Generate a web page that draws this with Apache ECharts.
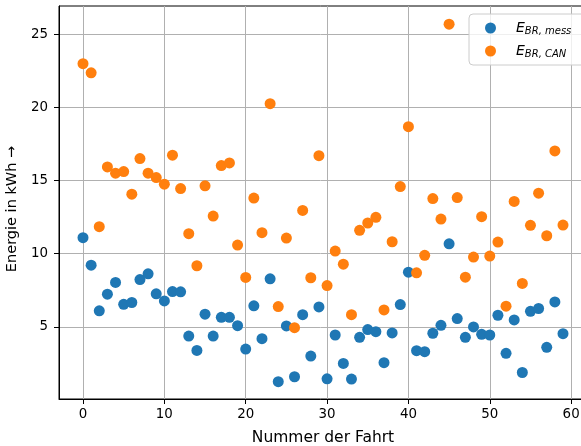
<!DOCTYPE html>
<html>
<head>
<meta charset="utf-8">
<script src="https://cdn.jsdelivr.net/npm/echarts@6/dist/echarts.min.js"></script>
<style>
  html, body { margin: 0; padding: 0; background: #fff; }
  #chart { width: 581px; height: 446px; }
</style>
</head>
<body>
<div id="chart"></div>
<script>
// Trip numbers 0..59
const fahrten = Array.from({ length: 60 }, (_, i) => i);

// Measured braking energy per trip (kWh)
const eMess = [
  11.10, 9.22, 6.10, 7.24, 8.04, 6.55, 6.67, 8.24, 8.63, 7.26,
  6.78, 7.42, 7.40, 4.38, 3.40, 5.87, 4.38, 5.66, 5.66, 5.09,
  3.49, 6.44, 4.20, 8.29, 1.26, 5.07, 1.60, 5.84, 3.01, 6.37,
  1.46, 4.45, 2.51, 1.44, 4.29, 4.82, 4.68, 2.56, 4.59, 6.53,
  8.74, 3.38, 3.31, 4.57, 5.11, 10.68, 5.57, 4.29, 5.00, 4.50,
  4.45, 5.80, 3.20, 5.48, 1.89, 6.07, 6.26, 3.61, 6.71, 4.54
];

// Braking energy from CAN bus per trip (kWh)
const eCan = [
  22.98, 22.36, 11.85, 15.93, 15.50, 15.61, 14.07, 16.50, 15.50, 15.20,
  14.75, 16.73, 14.45, 11.37, 9.18, 14.64, 12.57, 16.02, 16.20, 10.59,
  8.38, 13.80, 11.44, 20.25, 6.39, 11.07, 4.95, 12.96, 8.36, 16.70,
  7.83, 10.18, 9.29, 5.84, 11.60, 12.10, 12.49, 6.16, 10.82, 14.59,
  18.68, 8.70, 9.89, 13.77, 12.37, 25.68, 13.84, 8.40, 9.77, 12.53,
  9.84, 10.80, 6.42, 13.57, 7.97, 11.94, 14.14, 11.23, 17.02, 11.96
];

const xTicks = [0, 10, 20, 30, 40, 50, 60];
const yTicks = [5, 10, 15, 20, 25];

const FONT = 'DejaVu Sans';

const pairs = (vals) => fahrten.map((i) => [i, vals[i]]);

const legendLabels = {
  mess: '{e|E}{s|BR, mess}',
  can: '{e|E}{s|BR, CAN}'
};

const chart = echarts.init(document.getElementById('chart'), null, { renderer: 'canvas' });

const tickStyle = { show: true, inside: false, length: 5, lineStyle: { color: '#000', width: 1 } };
const labelStyle = { color: '#000', fontFamily: FONT, fontSize: 13.4 };

chart.setOption({
  animation: false,
  backgroundColor: '#fff',
  grid: {
    left: 59, top: 6, width: 528, height: 393,
    outerBoundsMode: 'none',
    containLabel: false,
    show: true, borderColor: '#000', borderWidth: 1, backgroundColor: 'transparent'
  },
  xAxis: {
    type: 'value',
    min: -2.95, max: 61.95,
    name: 'Nummer der Fahrt',
    nameLocation: 'middle',
    nameGap: 31,
    nameTextStyle: { color: '#000', fontFamily: FONT, fontSize: 15.5 },
    axisLine: { show: true, onZero: false, lineStyle: { color: '#000', width: 1 } },
    axisTick: Object.assign({}, tickStyle, { customValues: xTicks }),
    axisLabel: Object.assign({}, labelStyle, { margin: 9, customValues: xTicks }),
    splitLine: { show: true, lineStyle: { color: '#b0b0b0', width: 1 } }
  },
  yAxis: {
    type: 'value',
    min: 0.08, max: 26.92,
    name: 'Energie in kWh \u2192',
    nameLocation: 'middle',
    nameRotate: 90,
    nameGap: 38,
    nameTextStyle: {
      color: '#000', fontFamily: FONT, fontSize: 14.5,
      padding: [0, 13, 0, 0]
    },
    axisLine: { show: true, onZero: false, lineStyle: { color: '#000', width: 1 } },
    axisTick: Object.assign({}, tickStyle, { customValues: yTicks }),
    axisLabel: Object.assign({}, labelStyle, { margin: 11, customValues: yTicks }),
    splitLine: { show: true, lineStyle: { color: '#b0b0b0', width: 1 } }
  },
  legend: {
    left: 469, top: 14,
    orient: 'vertical',
    backgroundColor: 'rgba(255,255,255,0.8)',
    borderColor: '#cccccc',
    borderWidth: 1,
    borderRadius: 4,
    padding: [7, 14, 6, 16],
    itemGap: 8,
    itemWidth: 11,
    itemHeight: 11,
    icon: 'circle',
    formatter: (name) => legendLabels[name],
    textStyle: {
      color: '#000',
      padding: [0, 0, 0, 15],
      rich: {
        e: { fontFamily: FONT, fontStyle: 'italic', fontSize: 14, color: '#000' },
        s: { fontFamily: FONT, fontStyle: 'italic', fontSize: 10, color: '#000', padding: [6, 0, 0, 0] }
      }
    },
    data: ['mess', 'can']
  },
  series: [
    {
      name: 'mess',
      type: 'scatter',
      symbol: 'circle',
      symbolSize: 11,
      itemStyle: { color: '#1f77b4', opacity: 1 },
      data: pairs(eMess)
    },
    {
      name: 'can',
      type: 'scatter',
      symbol: 'circle',
      symbolSize: 11,
      itemStyle: { color: '#ff7f0e', opacity: 1 },
      data: pairs(eCan)
    }
  ]
});
</script>
</body>
</html>
